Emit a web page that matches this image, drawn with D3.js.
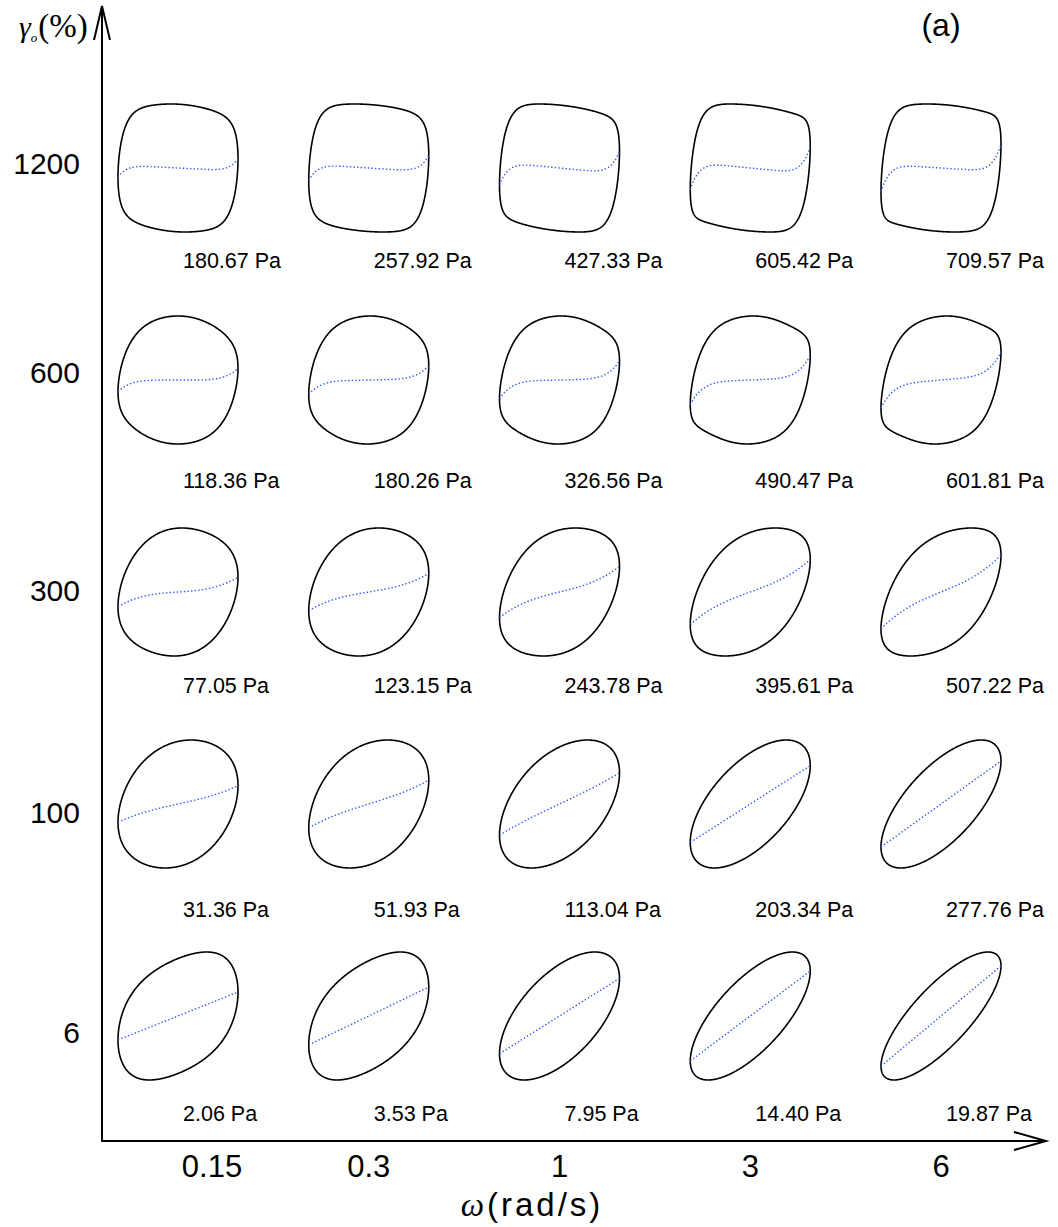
<!DOCTYPE html>
<html>
<head>
<meta charset="utf-8">
<script src="https://cdn.jsdelivr.net/npm/d3@7"></script>
<style>
  body { margin: 0; background: #fff; }
  svg { display: block; }
</style>
</head>
<body>
<svg id="chart" width="1058" height="1227"></svg>
<script>
// Pipkin diagram: normalised stress-strain (elastic Lissajous) loops
// for each angular frequency (columns) and strain amplitude (rows).

const frequencies = ["0.15", "0.3", "1", "3", "6"];      // ω (rad/s)
const strainAmplitudes = [1200, 600, 300, 100, 6];       // γ0 (%)

// maximum stress of each loop (Pa), rows follow strainAmplitudes
const maxStress = [
  [180.67, 257.92, 427.33, 605.42, 709.57],
  [118.36, 180.26, 326.56, 490.47, 601.81],
  [77.05, 123.15, 243.78, 395.61, 507.22],
  [31.36, 51.93, 113.04, 203.34, 277.76],
  [2.06, 3.53, 7.95, 14.40, 19.87]
];

// Chebyshev coefficients of the elastic stress σ'(x), x = γ/γ0
const elasticT1 = [
  [0.054, 0.077, 0.101, 0.140, 0.170],
  [0.113, 0.145, 0.189, 0.249, 0.299],
  [0.184, 0.248, 0.340, 0.436, 0.491],
  [0.261, 0.345, 0.470, 0.600, 0.670],
  [0.370, 0.450, 0.590, 0.700, 0.780]
];
const elasticT3 = [
  [0.062, 0.082, 0.115, 0.138, 0.138],
  [0.056, 0.063, 0.084, 0.105, 0.109],
  [0.041, 0.033, 0.040, 0.039, 0.044],
  [0.019, 0.020, 0.010, 0.000, 0.000],
  [0.000, 0.000, 0.000, 0.000, 0.000]
];
const elasticT5 = [
  [0.021, 0.027, 0.038, 0.046, 0.046],
  [0.011, 0.013, 0.017, 0.021, 0.022],
  [0.000, 0.000, 0.000, 0.000, 0.000],
  [0.000, 0.000, 0.000, 0.000, 0.000],
  [0.000, 0.000, 0.000, 0.000, 0.000]
];
const elasticT7 = [
  [0.003, 0.004, 0.0055, 0.0066, 0.0066],
  [0.000, 0.000, 0.000, 0.000, 0.000],
  [0.000, 0.000, 0.000, 0.000, 0.000],
  [0.000, 0.000, 0.000, 0.000, 0.000],
  [0.000, 0.000, 0.000, 0.000, 0.000]
];

// Chebyshev coefficients of the viscous stress σ''(y), y = γ̇/γ̇0
const viscousT1 = [
  [1.08, 1.10, 1.10, 1.10, 1.10],
  [1.00, 1.00, 1.00, 1.00, 1.00],
  [0.97, 0.95, 0.92, 0.87, 0.84],
  [0.96, 0.93, 0.88, 0.80, 0.74],
  [0.93, 0.89, 0.81, 0.71, 0.62]
];
const viscousT3 = [
  [-0.13, -0.15, -0.15, -0.15, -0.15],
  [-0.02, -0.02, -0.02, -0.02, -0.02],
  [0.00, 0.00, 0.00, 0.00, 0.00],
  [0.00, 0.00, 0.00, 0.00, 0.00],
  [-0.04, -0.03, 0.00, 0.00, 0.00]
];
const viscousT5 = [
  [0.02, 0.02, 0.02, 0.02, 0.02],
  [0.00, 0.00, 0.00, 0.00, 0.00],
  [0.00, 0.00, 0.00, 0.00, 0.00],
  [0.00, 0.00, 0.00, 0.00, 0.00],
  [0.00, 0.00, 0.00, 0.00, 0.00]
];

// ---------------------------------------------------------------
// layout
const svg = d3.select("#chart");
const axisX = 102;       // vertical axis position
const axisY = 1141;      // horizontal axis position
const halfW = 60;        // loop half width
const halfH = 64;        // loop half height
const tickBaselines = [174, 383, 601, 823, 1043];   // y tick label baselines
const labelBaselines = [268, 488, 693, 917, 1121];  // stress label baselines

const col = d3.scalePoint().domain(frequencies).range([178, 941]);
const row = d3.scalePoint().domain(strainAmplitudes).range([168, 1016]);

const cheb = (n, u) => Math.cos(n * Math.acos(Math.max(-1, Math.min(1, u))));

function elastic(r, c, x) {
  return elasticT1[r][c] * cheb(1, x) + elasticT3[r][c] * cheb(3, x)
       + elasticT5[r][c] * cheb(5, x) + elasticT7[r][c] * cheb(7, x);
}
function viscous(r, c, y) {
  return viscousT1[r][c] * cheb(1, y) + viscousT3[r][c] * cheb(3, y) + viscousT5[r][c] * cheb(5, y);
}

const N = 720;
const line = d3.line().x(d => d[0]).y(d => d[1]);
const cells = svg.append("g").attr("class", "cells");

strainAmplitudes.forEach((g0, r) => {
  frequencies.forEach((w, c) => {
    const cx = col(w), cy = row(g0);
    const smax = maxStress[r][c];

    // one period of the strain cycle, normalised stress
    const raw = d3.range(N + 1).map(i => {
      const t = (i / N) * 2 * Math.PI;
      const x = Math.sin(t), y = Math.cos(t);
      return [x, elastic(r, c, x) + viscous(r, c, y)];
    });
    const peak = d3.max(raw, d => Math.abs(d[1]));

    const xs = d3.scaleLinear().domain([-g0, g0]).range([cx - halfW, cx + halfW]);
    const ys = d3.scaleLinear().domain([-smax, smax]).range([cy + halfH, cy - halfH]);

    const loop = raw.map(d => [xs(d[0] * g0), ys(d[1] / peak * smax)]);
    const el = d3.range(201).map(i => {
      const x = -1 + 2 * i / 200;
      return [xs(x * g0), ys(elastic(r, c, x) / peak * smax)];
    });

    const g = cells.append("g");
    g.append("path")
      .attr("d", line(loop) + "Z")
      .attr("fill", "none")
      .attr("stroke", "#000")
      .attr("stroke-width", 1.6);
    g.append("path")
      .attr("d", line(el))
      .attr("fill", "none")
      .attr("stroke", "#2f55ff")
      .attr("stroke-width", 1.4)
      .attr("stroke-dasharray", "1.4,2.2");
    g.append("text")
      .attr("x", cx + 5)
      .attr("y", labelBaselines[r])
      .attr("font-family", "Liberation Sans, Arial, sans-serif")
      .attr("font-size", 21.5)
      .attr("fill", "#000")
      .text(smax.toFixed(2) + " Pa");
  });
});

// ---------------------------------------------------------------
// axes with open arrow heads
const axes = svg.append("g")
  .attr("stroke", "#000").attr("stroke-width", 2).attr("fill", "none");
axes.append("line").attr("x1", axisX).attr("y1", axisY).attr("x2", axisX).attr("y2", 6);
axes.append("path").attr("d", `M${axisX - 8},40 L${axisX},6 L${axisX + 8},40`);
axes.append("line").attr("x1", axisX - 1).attr("y1", axisY).attr("x2", 1046).attr("y2", axisY);
axes.append("path").attr("d", `M1014,${axisY - 9} L1046,${axisY} L1014,${axisY + 9}`);

// y tick labels
svg.append("g").selectAll("text")
  .data(strainAmplitudes).join("text")
  .attr("x", 80)
  .attr("y", (d, i) => tickBaselines[i])
  .attr("text-anchor", "end")
  .attr("font-family", "Liberation Sans, Arial, sans-serif")
  .attr("font-size", 30)
  .text(d => d);

// x tick labels (the first one sits clear of the vertical axis)
svg.append("g").selectAll("text")
  .data(frequencies).join("text")
  .attr("x", (d, i) => col(d) + (i === 0 ? 34 : 0))
  .attr("y", 1177)
  .attr("text-anchor", "middle")
  .attr("font-family", "Liberation Sans, Arial, sans-serif")
  .attr("font-size", 31)
  .text(d => d);

// y axis title: γ0 (%)
const yt = svg.append("text")
  .attr("x", 19).attr("y", 37)
  .attr("font-family", "Liberation Serif, Times New Roman, serif")
  .attr("font-size", 33);
yt.append("tspan").attr("font-style", "italic").attr("font-size", 30).text("γ");
yt.append("tspan").attr("font-style", "italic").attr("font-size", 13).attr("dy", 5).text("o");
yt.append("tspan").attr("dy", -5).attr("dx", 1).text("(%)");

// x axis title: ω (rad/s)
const xt = svg.append("text")
  .attr("x", 532).attr("y", 1216)
  .attr("text-anchor", "middle")
  .attr("font-size", 33);
xt.append("tspan").attr("font-family", "Liberation Serif, Times New Roman, serif")
  .attr("font-style", "italic").text("ω");
xt.append("tspan").attr("font-family", "Liberation Sans, Arial, sans-serif")
  .attr("dx", 3).attr("letter-spacing", 3).text("(rad/s)");

// panel tag
svg.append("text")
  .attr("x", 941).attr("y", 36)
  .attr("text-anchor", "middle")
  .attr("font-family", "Liberation Sans, Arial, sans-serif")
  .attr("font-size", 32)
  .text("(a)");
</script>
</body>
</html>
